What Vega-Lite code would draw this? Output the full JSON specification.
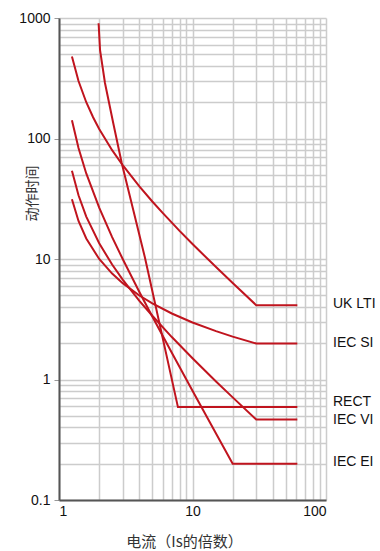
{
  "$schema": "https://vega.github.io/schema/vega-lite/v6.json",
  "width": 267,
  "height": 482,
  "autosize": "none",
  "padding": {"left": 59, "top": 18, "right": 54, "bottom": 51},
  "background": "white",
  "config": {
    "view": {"stroke": null},
    "font": "Liberation Sans"
  },
  "datasets": {
    "curves": [
      {"curve": "UK LTI", "order": 1, "current": 1.25, "time": 480},
      {"curve": "UK LTI", "order": 2, "current": 1.4, "time": 300},
      {"curve": "UK LTI", "order": 3, "current": 1.6, "time": 200},
      {"curve": "UK LTI", "order": 4, "current": 1.8, "time": 150},
      {"curve": "UK LTI", "order": 5, "current": 2, "time": 120},
      {"curve": "UK LTI", "order": 6, "current": 2.5, "time": 80},
      {"curve": "UK LTI", "order": 7, "current": 3, "time": 60},
      {"curve": "UK LTI", "order": 8, "current": 4, "time": 40},
      {"curve": "UK LTI", "order": 9, "current": 5, "time": 30},
      {"curve": "UK LTI", "order": 10, "current": 6, "time": 24},
      {"curve": "UK LTI", "order": 11, "current": 8, "time": 17.1},
      {"curve": "UK LTI", "order": 12, "current": 10, "time": 13.3},
      {"curve": "UK LTI", "order": 13, "current": 15, "time": 8.57},
      {"curve": "UK LTI", "order": 14, "current": 20, "time": 6.32},
      {"curve": "UK LTI", "order": 15, "current": 30, "time": 4.14},
      {"curve": "UK LTI", "order": 16, "current": 61, "time": 4.14},

      {"curve": "IEC SI", "order": 1, "current": 1.25, "time": 31.3},
      {"curve": "IEC SI", "order": 2, "current": 1.4, "time": 20.7},
      {"curve": "IEC SI", "order": 3, "current": 1.6, "time": 14.8},
      {"curve": "IEC SI", "order": 4, "current": 2, "time": 10.0},
      {"curve": "IEC SI", "order": 5, "current": 2.5, "time": 7.57},
      {"curve": "IEC SI", "order": 6, "current": 3, "time": 6.3},
      {"curve": "IEC SI", "order": 7, "current": 4, "time": 4.98},
      {"curve": "IEC SI", "order": 8, "current": 5, "time": 4.28},
      {"curve": "IEC SI", "order": 9, "current": 7, "time": 3.53},
      {"curve": "IEC SI", "order": 10, "current": 10, "time": 2.97},
      {"curve": "IEC SI", "order": 11, "current": 15, "time": 2.52},
      {"curve": "IEC SI", "order": 12, "current": 20, "time": 2.27},
      {"curve": "IEC SI", "order": 13, "current": 30, "time": 1.99},
      {"curve": "IEC SI", "order": 14, "current": 61, "time": 1.99},

      {"curve": "IEC VI", "order": 1, "current": 1.25, "time": 54},
      {"curve": "IEC VI", "order": 2, "current": 1.4, "time": 33.8},
      {"curve": "IEC VI", "order": 3, "current": 1.6, "time": 22.5},
      {"curve": "IEC VI", "order": 4, "current": 2, "time": 13.5},
      {"curve": "IEC VI", "order": 5, "current": 2.5, "time": 9},
      {"curve": "IEC VI", "order": 6, "current": 3, "time": 6.75},
      {"curve": "IEC VI", "order": 7, "current": 4, "time": 4.5},
      {"curve": "IEC VI", "order": 8, "current": 5, "time": 3.38},
      {"curve": "IEC VI", "order": 9, "current": 7, "time": 2.25},
      {"curve": "IEC VI", "order": 10, "current": 10, "time": 1.5},
      {"curve": "IEC VI", "order": 11, "current": 15, "time": 0.964},
      {"curve": "IEC VI", "order": 12, "current": 20, "time": 0.711},
      {"curve": "IEC VI", "order": 13, "current": 30, "time": 0.466},
      {"curve": "IEC VI", "order": 14, "current": 61, "time": 0.466},

      {"curve": "IEC EI", "order": 1, "current": 1.25, "time": 142},
      {"curve": "IEC EI", "order": 2, "current": 1.4, "time": 83.3},
      {"curve": "IEC EI", "order": 3, "current": 1.6, "time": 51.3},
      {"curve": "IEC EI", "order": 4, "current": 2, "time": 26.7},
      {"curve": "IEC EI", "order": 5, "current": 2.5, "time": 15.2},
      {"curve": "IEC EI", "order": 6, "current": 3, "time": 10},
      {"curve": "IEC EI", "order": 7, "current": 4, "time": 5.33},
      {"curve": "IEC EI", "order": 8, "current": 5, "time": 3.33},
      {"curve": "IEC EI", "order": 9, "current": 7, "time": 1.67},
      {"curve": "IEC EI", "order": 10, "current": 10, "time": 0.808},
      {"curve": "IEC EI", "order": 11, "current": 15, "time": 0.357},
      {"curve": "IEC EI", "order": 12, "current": 20, "time": 0.2},
      {"curve": "IEC EI", "order": 13, "current": 61, "time": 0.2},

      {"curve": "RECT", "order": 1, "current": 1.98, "time": 904},
      {"curve": "RECT", "order": 2, "current": 2.03, "time": 542},
      {"curve": "RECT", "order": 3, "current": 2.21, "time": 289},
      {"curve": "RECT", "order": 4, "current": 2.55, "time": 134},
      {"curve": "RECT", "order": 5, "current": 2.95, "time": 62.7},
      {"curve": "RECT", "order": 6, "current": 3.6, "time": 25.5},
      {"curve": "RECT", "order": 7, "current": 4.41, "time": 10.2},
      {"curve": "RECT", "order": 8, "current": 7.78, "time": 0.59},
      {"curve": "RECT", "order": 9, "current": 61, "time": 0.59}
    ],
    "labels": [
      {"label": "UK LTI", "current": 100, "time": 4.2},
      {"label": "IEC SI", "current": 100, "time": 2.0},
      {"label": "RECT", "current": 100, "time": 0.65},
      {"label": "IEC VI", "current": 100, "time": 0.46},
      {"label": "IEC EI", "current": 100, "time": 0.206}
    ]
  },
  "layer": [
    {
      "data": {"name": "curves"},
      "mark": {"type": "line", "color": "#c0141e", "strokeWidth": 2, "clip": true},
      "encoding": {
        "x": {
          "field": "current", "type": "quantitative",
          "scale": {"type": "log", "domain": [1, 100], "nice": false},
          "axis": {
            "title": "电流（Is的倍数）",
            "titleFont": "Noto Sans CJK SC",
            "titleFontSize": 15,
            "titleFontWeight": "normal",
            "titleColor": "#333333",
            "titleX": 125,
            "titleY": 41,
            "titleBaseline": "middle",
            "values": [1, 2, 3, 4, 5, 6, 7, 8, 9, 10, 20, 30, 40, 50, 60, 70, 80, 90, 100],
            "labelExpr": "indexof([1, 10, 100], datum.value) >= 0 ? '' + datum.value : ''",
            "labelOverlap": false,
            "labelFontSize": 14,
            "labelColor": "#111111",
            "labelPadding": 4,
            "ticks": false,
            "domainColor": "#555555",
            "domainWidth": 2,
            "grid": true,
            "gridColor": "#cccccc",
            "gridWidth": 1.5
          }
        },
        "y": {
          "field": "time", "type": "quantitative",
          "scale": {"type": "log", "domain": [0.1, 1000], "nice": false},
          "axis": {
            "title": "动作时间",
            "titleFont": "Noto Sans CJK SC",
            "titleFontSize": 14,
            "titleFontWeight": "normal",
            "titleColor": "#333333",
            "titleX": -27,
            "titleY": 175,
            "titleAngle": 270,
            "titleBaseline": "middle",
            "titleAlign": "center",
            "values": [0.1, 0.2, 0.3, 0.4, 0.5, 0.6, 0.7, 0.8, 0.9, 1, 2, 3, 4, 5, 6, 7, 8, 9, 10, 20, 30, 40, 50, 60, 70, 80, 90, 100, 200, 300, 400, 500, 600, 700, 800, 900, 1000],
            "labelExpr": "indexof([0.1, 1, 10, 100, 1000], datum.value) >= 0 ? '' + datum.value : ''",
            "labelOverlap": false,
            "labelFontSize": 14,
            "labelColor": "#111111",
            "labelPadding": 4,
            "ticks": true,
            "tickSize": 5,
            "tickColor": "#999999",
            "tickOpacity": {"condition": {"test": "indexof([0.1, 1, 10, 100, 1000], datum.value) >= 0", "value": 1}, "value": 0},
            "domainColor": "#555555",
            "domainWidth": 2,
            "grid": true,
            "gridColor": "#cccccc",
            "gridWidth": 1.5
          }
        },
        "detail": {"field": "curve"},
        "order": {"field": "order"}
      }
    },
    {
      "data": {"name": "labels"},
      "mark": {"type": "text", "align": "left", "baseline": "middle", "dx": 7, "fontSize": 14, "color": "#111111", "font": "Liberation Sans", "clip": false},
      "encoding": {
        "x": {"field": "current", "type": "quantitative"},
        "y": {"field": "time", "type": "quantitative"},
        "text": {"field": "label"}
      }
    }
  ]
}
